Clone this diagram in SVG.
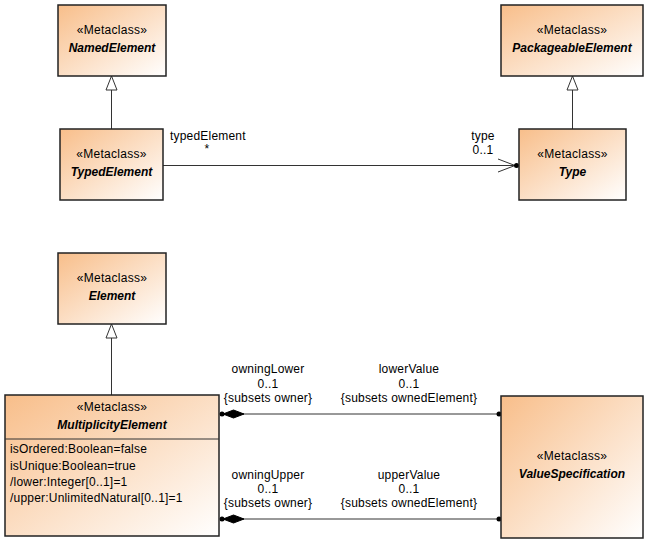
<svg xmlns="http://www.w3.org/2000/svg" width="647" height="541" viewBox="0 0 647 541">
<defs>
<linearGradient id="g" x1="0" y1="0" x2="1" y2="1">
<stop offset="0" stop-color="#F8BE8A"/>
<stop offset="1" stop-color="#FFFFFF"/>
</linearGradient>
</defs>
<style>
.box{fill:url(#g);stroke:#222;stroke-width:1.5}
.st{font-family:"Liberation Sans",Arial,sans-serif;font-size:12px;letter-spacing:0.3px;text-anchor:middle;fill:#000}
.nm{font-family:"Liberation Sans",Arial,sans-serif;font-size:12px;font-weight:bold;font-style:italic;text-anchor:middle;fill:#000}
.lb{font-family:"Liberation Sans",Arial,sans-serif;font-size:12px;letter-spacing:0.2px;fill:#000}
.c{text-anchor:middle}
.ln{stroke:#333;stroke-width:1;fill:none}
.tri{fill:#fff;stroke:#333;stroke-width:1}
.dot{fill:#000}
.dia{fill:#000;stroke:#000}
</style>
<rect width="647" height="541" fill="#fff"/>

<g id="connectors">
<line class="ln" x1="111.5" y1="90" x2="111.5" y2="129"/>
<polygon class="tri" points="111.5,76 106,90 117,90"/>
<line class="ln" x1="572.5" y1="90" x2="572.5" y2="129"/>
<polygon class="tri" points="572.5,76 567,90 578,90"/>
<line class="ln" x1="111.5" y1="338" x2="111.5" y2="395"/>
<polygon class="tri" points="111.5,324 106,338 117,338"/>

<line class="ln" x1="163" y1="165.5" x2="517" y2="165.5"/>
<polyline class="ln" points="498,159 515,165.5 498,172"/>
<circle class="dot" cx="516.5" cy="165.5" r="2.5"/>
<text class="lb" x="170" y="140">typedElement</text>
<text class="lb c" x="207" y="153">*</text>
<text class="lb c" x="483" y="140">type</text>
<text class="lb c" x="483" y="154">0..1</text>

<line class="ln" x1="222" y1="414" x2="499" y2="414"/>
<circle class="dot" cx="222" cy="414" r="2.5"/>
<polygon class="dia" points="223,414 233.5,410 244,414 233.5,418"/>
<circle class="dot" cx="499" cy="414" r="2.5"/>
<text class="lb c" x="268" y="373">owningLower</text>
<text class="lb c" x="268" y="388">0..1</text>
<text class="lb c" x="268" y="402">{subsets owner}</text>
<text class="lb c" x="409" y="373">lowerValue</text>
<text class="lb c" x="409" y="388">0..1</text>
<text class="lb c" x="409" y="402">{subsets ownedElement}</text>

<line class="ln" x1="222" y1="519" x2="499" y2="519"/>
<circle class="dot" cx="222" cy="519" r="2.5"/>
<polygon class="dia" points="223,519 233.5,515 244,519 233.5,523"/>
<circle class="dot" cx="499" cy="519" r="2.5"/>
<text class="lb c" x="268" y="479">owningUpper</text>
<text class="lb c" x="268" y="493">0..1</text>
<text class="lb c" x="268" y="507">{subsets owner}</text>
<text class="lb c" x="409" y="479">upperValue</text>
<text class="lb c" x="409" y="493">0..1</text>
<text class="lb c" x="409" y="507">{subsets ownedElement}</text>
</g>

<g id="NamedElement">
<rect class="box" x="58" y="5" width="108" height="71"/>
<text class="st" x="112" y="34">«Metaclass»</text>
<text class="nm" x="112" y="52">NamedElement</text>
</g>

<g id="PackageableElement">
<rect class="box" x="501" y="5" width="142" height="71"/>
<text class="st" x="572" y="34">«Metaclass»</text>
<text class="nm" x="572" y="52">PackageableElement</text>
</g>

<g id="TypedElement">
<rect class="box" x="60" y="129" width="103" height="71"/>
<text class="st" x="111.5" y="158">«Metaclass»</text>
<text class="nm" x="111.5" y="176">TypedElement</text>
</g>

<g id="Type">
<rect class="box" x="519" y="129" width="107" height="71"/>
<text class="st" x="572.5" y="158">«Metaclass»</text>
<text class="nm" x="572.5" y="176">Type</text>
</g>

<g id="Element">
<rect class="box" x="58" y="253" width="108" height="71"/>
<text class="st" x="112" y="282">«Metaclass»</text>
<text class="nm" x="112" y="300">Element</text>
</g>

<g id="MultiplicityElement">
<rect class="box" x="5" y="395" width="214" height="141"/>
<line class="ln" x1="5" y1="439" x2="219" y2="439" stroke="#222"/>
<text class="st" x="112" y="411">«Metaclass»</text>
<text class="nm" x="112" y="429">MultiplicityElement</text>
<text class="lb" x="10" y="453">isOrdered:Boolean=false</text>
<text class="lb" x="10" y="470">isUnique:Boolean=true</text>
<text class="lb" x="10" y="486">/lower:Integer[0..1]=1</text>
<text class="lb" x="10" y="502">/upper:UnlimitedNatural[0..1]=1</text>
</g>

<g id="ValueSpecification">
<rect class="box" x="501" y="396" width="142" height="142"/>
<text class="st" x="572" y="460">«Metaclass»</text>
<text class="nm" x="572" y="478">ValueSpecification</text>
</g>
</svg>
